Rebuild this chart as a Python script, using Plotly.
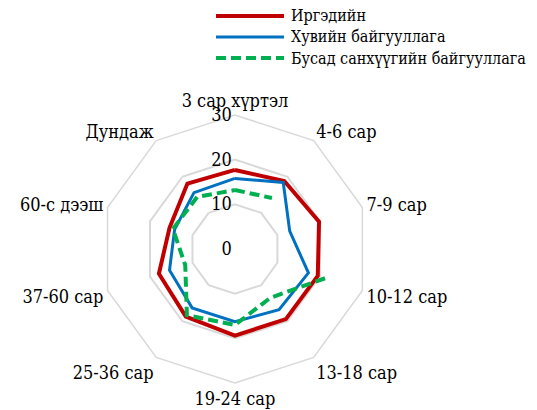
import plotly.graph_objects as go

categories = ["3 сар хүртэл", "4-6 сар", "7-9 сар", "10-12 сар", "13-18 сар",
              "19-24 сар", "25-36 сар", "37-60 сар", "60-с дээш", "Дундаж"]
citizens = [17.7, 18.8, 19.8, 19.5, 19.4, 19.4, 18.7, 17.9, 15.4, 18.1]
private_org = [15.8, 18.4, 12.9, 17.3, 16.8, 16.3, 16.3, 15.4, 14.2, 15.6]
other_fin = [13.2, 14.1, None, 21.2, 13.5, 17.0, 18.3, 11.7, 14.6, 14.4]
series_names = ["Иргэдийн", "Хувийн байгууллага", "Бусад санхүүгийн байгууллага"]
series_colors = ["#C00000", "#0070C0", "#00B050"]
series_widths = [4, 3, 4]
series_dashes = ["solid", "solid", "10px,5px"]
radial_ticks = [0, 10, 20, 30]

FONT = "DejaVu Serif Condensed, DejaVu Serif"

def closed(vals):
    return list(vals) + [vals[0]]

theta = categories + [categories[0]]

fig = go.Figure()
for name, vals, col, w, d in zip(series_names, [citizens, private_org, other_fin],
                                 series_colors, series_widths, series_dashes):
    fig.add_trace(go.Scatterpolar(r=closed(vals), theta=theta, mode="lines",
                                  name=name, connectgaps=False, showlegend=False,
                                  hoverinfo="skip",
                                  line=dict(color=col, width=w, dash=d)))

legend_y = [0.961, 0.9098, 0.8585]
for name, col, w, d, yy in zip(series_names, series_colors, series_widths,
                               series_dashes, legend_y):
    fig.add_shape(type="line", xref="paper", yref="paper",
                  x0=0.4022, x1=0.5289, y0=yy, y1=yy,
                  line=dict(color=col, width=w, dash=d))
    fig.add_annotation(x=0.538, y=yy, xref="paper", yref="paper", text=name,
                       showarrow=False, xanchor="left", yanchor="middle",
                       font=dict(family=FONT, size=16, color="black"))

fig.update_layout(
    width=537, height=410,
    margin=dict(l=0, r=0, t=0, b=0),
    paper_bgcolor="white",
    font=dict(family=FONT, color="black", size=18),
    polar=dict(
        domain=dict(x=[0.188, 0.687], y=[0.0659, 0.7195]),
        bgcolor="white",
        gridshape="linear",
        angularaxis=dict(direction="clockwise", rotation=90,
                         showline=True, linecolor="#D9D9D9", linewidth=1.5,
                         showgrid=False, ticks="",
                         tickfont=dict(family=FONT, size=18, color="black")),
        radialaxis=dict(range=[0, 30], tickvals=radial_ticks, angle=90,
                        showline=False, ticks="", gridcolor="#D9D9D9", gridwidth=1.5,
                        side="counterclockwise", tickangle=90,
                        ticksuffix="\u2003\u2003",
                        tickfont=dict(family=FONT, size=18, color="black")),
    ),
    showlegend=False,
)

fig.write_html("out.html", config={"displayModeBar": False},
               post_script="document.body.style.margin='0';document.body.style.overflow='hidden';")
